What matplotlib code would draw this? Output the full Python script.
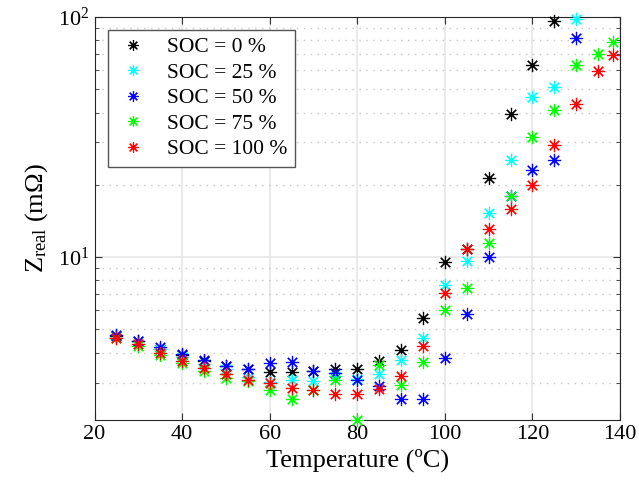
import matplotlib
matplotlib.use("Agg")
import matplotlib.pyplot as plt
from matplotlib.ticker import LogLocator, NullFormatter, FixedLocator

plt.rcParams['font.family'] = ['Liberation Serif', 'DejaVu Serif']
plt.rcParams['mathtext.fontset'] = 'custom'
plt.rcParams['mathtext.rm'] = 'Liberation Serif'
plt.rcParams['mathtext.it'] = 'Liberation Serif:italic'

# temperatures (ºC)
temp_0 = [25, 30, 35, 40, 45, 50, 55, 60, 65, 70, 75, 80, 85, 90, 95, 100, 105, 110, 115, 120, 125]
temp_25 = [25, 30, 35, 40, 45, 50, 55, 60, 65, 70, 75, 80, 85, 90, 95, 100, 105, 110, 115, 120, 125, 130]
temp_50 = [25, 30, 35, 40, 45, 50, 55, 60, 65, 70, 75, 80, 85, 90, 95, 100, 105, 110, 115, 120, 125, 130]
temp_75 = [25, 30, 35, 40, 45, 50, 55, 60, 65, 70, 75, 80, 85, 90, 95, 100, 105, 110, 115, 120, 125, 130, 135, 138.5]
temp_100 = [25, 30, 35, 40, 45, 50, 55, 60, 65, 70, 75, 80, 85, 90, 95, 100, 105, 110, 115, 120, 125, 130, 135, 138.5]

# Z_real (mOhm)
z_0 = [4.70, 4.45, 4.15, 3.90, 3.68, 3.50, 3.42, 3.31, 3.32, 3.35, 3.40, 3.41, 3.69, 4.10, 5.55,
       9.50, 10.8, 21.3, 39.3, 63.1, 96.5]
z_25 = [4.75, 4.48, 4.15, 3.85, 3.60, 3.40, 3.15, 3.02, 3.07, 3.04, 3.20, 3.10, 3.26, 3.72, 4.58,
        7.64, 9.65, 15.3, 25.4, 46.3, 50.9, 98.1]
z_50 = [4.72, 4.48, 4.20, 3.95, 3.72, 3.53, 3.41, 3.61, 3.64, 3.36, 3.28, 3.07, 2.91, 2.56, 2.56,
        3.78, 5.77, 10.0, 18.0, 23.0, 25.4, 81.5]
z_75 = [4.60, 4.25, 3.90, 3.62, 3.36, 3.12, 3.05, 2.79, 2.55, 2.79, 3.07, 2.09, 3.55, 2.92, 3.67,
        6.02, 7.45, 11.4, 17.9, 31.5, 41.0, 62.8, 70.1, 78.9]
z_100 = [4.60, 4.34, 4.00, 3.70, 3.46, 3.26, 3.07, 2.98, 2.84, 2.79, 2.70, 2.70, 2.81, 3.19, 4.26,
         7.06, 10.77, 13.04, 15.9, 19.9, 29.4, 43.3, 59.6, 69.4]

labels = ['SOC = 0 %', 'SOC = 25 %', 'SOC = 50 %', 'SOC = 75 %', 'SOC = 100 %']
colors = ['black', 'cyan', 'blue', '#00ff00', 'red']
x_ticks = [20, 40, 60, 80, 100, 120, 140]

STAR = (8, 2, 0)  # asterisk like matlab '*'


def main():
    fig = plt.figure(figsize=(6.39, 4.91), dpi=100)
    ax = fig.add_axes([0.1479, 0.144, 0.8224, 0.8214])

    series = [(temp_0, z_0), (temp_25, z_25), (temp_50, z_50), (temp_75, z_75), (temp_100, z_100)]
    for (t, z), lab, c in zip(series, labels, colors):
        ax.plot(t, z, linestyle='none', marker=STAR, color=c, ms=9.5, mew=0.85,
                label=lab, clip_on=False, zorder=3)

    ax.set_yscale('log')
    ax.set_xlim(20, 140)
    ax.set_ylim(2.088, 100)
    ax.xaxis.set_major_locator(FixedLocator(x_ticks))
    ax.yaxis.set_major_locator(LogLocator(base=10))
    ax.yaxis.set_minor_locator(LogLocator(base=10, subs=range(2, 10)))
    ax.yaxis.set_minor_formatter(NullFormatter())

    # grid: solid major, dotted minor
    ax.grid(True, which='major', color='#e6e6e6', lw=1.2, linestyle='-')
    ax.grid(True, which='minor', axis='y', color='#c8c8c8', lw=1.0, linestyle=(0, (1, 4)))
    ax.set_axisbelow(True)

    ax.tick_params(which='both', direction='in', top=True, right=True, labelsize=16,
                   color='#333333')
    ax.tick_params(which='major', length=5)
    ax.tick_params(which='minor', length=3)
    for s in ax.spines.values():
        s.set_color('#262626')

    ax.set_xlabel('Temperature (ºC)', fontsize=19, labelpad=3)
    ax.set_ylabel(r'Z$_{\mathrm{real}}$ (mΩ)', fontsize=19, labelpad=6)

    leg = ax.legend(loc='upper left', bbox_to_anchor=(0.0257, 0.968), borderaxespad=0,
                    fontsize=15.5, fancybox=False, framealpha=1, edgecolor='#555555',
                    handlelength=1.6, handletextpad=0.8, labelspacing=0.25, borderpad=0.35,
                    markerscale=0.8)
    leg.get_frame().set_linewidth(1.0)

    fig.savefig('out.png', dpi=100)


if __name__ == "__main__":
    main()
